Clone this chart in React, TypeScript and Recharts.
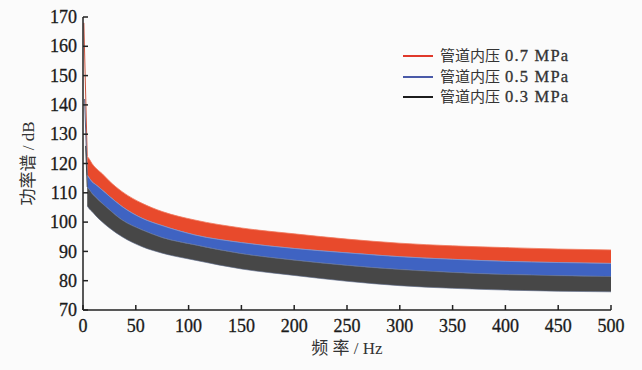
import React from 'react';
import { ComposedChart, Area, Line, XAxis, YAxis, Legend } from 'recharts';

// Frequency samples (Hz)
const freq = [4, 6, 8.5, 12, 18, 25, 37, 56, 75, 106, 150, 200, 250, 300, 350, 400, 450, 500];

// Band boundaries of the power spectrum (dB)
const redTop = [122.5, 121.5, 120, 118.5, 116.6, 114, 110.4, 106.4, 103.6, 100.7, 98, 96, 94.2, 92.8, 91.9, 91.3, 90.8, 90.5];
const redBottom = [116, 115, 113.8, 112.8, 111, 108.8, 105.3, 101.3, 98.8, 95.6, 93, 91, 89.5, 88.2, 87.3, 86.6, 86.2, 85.9];
const blueBottom = [112, 111, 109.8, 108.5, 106.4, 104.2, 100.7, 97.3, 94.7, 92.2, 89.2, 87, 85.2, 83.8, 82.8, 82.1, 81.7, 81.4];
const blackBottom = [105.5, 104.5, 103.6, 102.2, 100.1, 98, 95, 91.6, 89.4, 87, 84, 81.8, 79.8, 78.3, 77.4, 76.8, 76.4, 76.2];

// Low-frequency spikes near 0 Hz
const spikeRed = [{ f: 0.8, v: 168 }, { f: 4, v: 122.5 }];
const spikeBlue = [{ f: 1.5, v: 142 }, { f: 4, v: 116 }];
const spikeBlack = [{ f: 2.5, v: 126 }, { f: 4, v: 112 }];

const xTicks = [0, 50, 100, 150, 200, 250, 300, 350, 400, 450, 500];
const yTicks = [70, 80, 90, 100, 110, 120, 130, 140, 150, 160, 170];

const seriesPrefix = '管道内压';
const seriesPressure = ['0.7 MPa', '0.5 MPa', '0.3 MPa'];
const legendColors = ['#e0392b', '#4a5aa8', '#1c1c1c'];
const bandColors = ['#e84a2c', '#3f63c2', '#474747'];

const rows = freq.map((f, i) => ({
  f,
  red: [redBottom[i], redTop[i]],
  blue: [blueBottom[i], redBottom[i]],
  black: [blackBottom[i], blueBottom[i]],
}));

const serif = '"Liberation Serif", "Noto Sans CJK SC", serif';
const TICK_GAP = 6;
const TICK_LEN = 5;

// Bottom-axis tick: label below, short tick mark pointing up into the plot
function XTick(props: any) {
  const { x, y, payload } = props;
  const axisY = y - TICK_GAP;
  return (
    <g>
      <line x1={x} x2={x} y1={axisY} y2={axisY - TICK_LEN} stroke="#222" strokeWidth={1.5} />
      <text x={x} y={y} dy="0.9em" textAnchor="middle" fontFamily={serif} fontSize={18} fill="#1a1a1a" stroke="#1a1a1a" strokeWidth={0.3}>
        {payload.value}
      </text>
    </g>
  );
}

// Left-axis tick: label on the left, short tick mark pointing right into the plot
function YTick(props: any) {
  const { x, y, payload } = props;
  const axisX = x + TICK_GAP;
  return (
    <g>
      <line x1={axisX} x2={axisX + TICK_LEN} y1={y} y2={y} stroke="#222" strokeWidth={1.5} />
      <text x={x} y={y} dy="0.34em" textAnchor="end" fontFamily={serif} fontSize={18} fill="#1a1a1a" stroke="#1a1a1a" strokeWidth={0.3}>
        {payload.value}
      </text>
    </g>
  );
}

function LegendBox() {
  return (
    <div style={{ fontFamily: serif, color: '#333', lineHeight: '20.5px' }}>
      {seriesPressure.map((p, i) => (
        <div key={p} style={{ display: 'flex', alignItems: 'center', whiteSpace: 'nowrap' }}>
          <span style={{ display: 'inline-block', width: 30, height: 2, background: legendColors[i], marginRight: 7 }} />
          <span style={{ fontSize: 15 }}>{seriesPrefix}</span>
          <span style={{ fontSize: 16.5, marginLeft: 5, letterSpacing: 1.2, WebkitTextStroke: '0.3px #333' }}>{p}</span>
        </div>
      ))}
    </div>
  );
}

export default function App() {
  return (
    <div style={{ position: 'absolute', left: 0, top: 0, width: 642, height: 370, background: '#fbfbfb' }}>
      <ComposedChart
        width={642}
        height={370}
        data={rows}
        margin={{ top: 17, right: 31, bottom: 30, left: 0 }}
      >
        <XAxis
          dataKey="f"
          type="number"
          domain={[0, 500]}
          ticks={xTicks}
          allowDataOverflow
          height={30}
          stroke="#222"
          strokeWidth={1.5}
          tickLine={false}
          tickSize={0}
          tickMargin={TICK_GAP}
          tick={<XTick />}
          label={{ value: '频 率 / Hz', position: 'bottom', offset: 2, style: { fontFamily: serif, fontSize: 17, fill: '#333' } }}
        />
        <YAxis
          type="number"
          domain={[70, 170]}
          ticks={yTicks}
          allowDataOverflow
          width={83}
          stroke="#222"
          strokeWidth={1.5}
          tickLine={false}
          tickSize={0}
          tickMargin={TICK_GAP}
          tick={<YTick />}
          label={{ value: '功率谱 / dB', angle: -90, position: 'insideLeft', offset: 28, style: { textAnchor: 'middle', fontFamily: serif, fontSize: 17, fill: '#333' } }}
        />
        <Legend
          verticalAlign="middle"
          align="center"
          layout="vertical"
          wrapperStyle={{ top: 46, left: 403, width: 230 }}
          content={() => <LegendBox />}
        />
        <Area type="monotone" dataKey="red" fill={bandColors[0]} fillOpacity={1} stroke="#f07a5e" strokeWidth={0.8} isAnimationActive={false} />
        <Area type="monotone" dataKey="blue" fill={bandColors[1]} fillOpacity={1} stroke="#7f95d0" strokeWidth={0.8} isAnimationActive={false} />
        <Area type="monotone" dataKey="black" fill={bandColors[2]} fillOpacity={1} stroke="#5c6a8a" strokeWidth={0.6} isAnimationActive={false} />
        <Line data={spikeRed} dataKey="v" type="linear" stroke="#c9543f" strokeWidth={1} dot={false} isAnimationActive={false} />
        <Line data={spikeBlue} dataKey="v" type="linear" stroke="#5a5f80" strokeWidth={1} dot={false} isAnimationActive={false} />
        <Line data={spikeBlack} dataKey="v" type="linear" stroke="#444" strokeWidth={1} dot={false} isAnimationActive={false} />
      </ComposedChart>
    </div>
  );
}
